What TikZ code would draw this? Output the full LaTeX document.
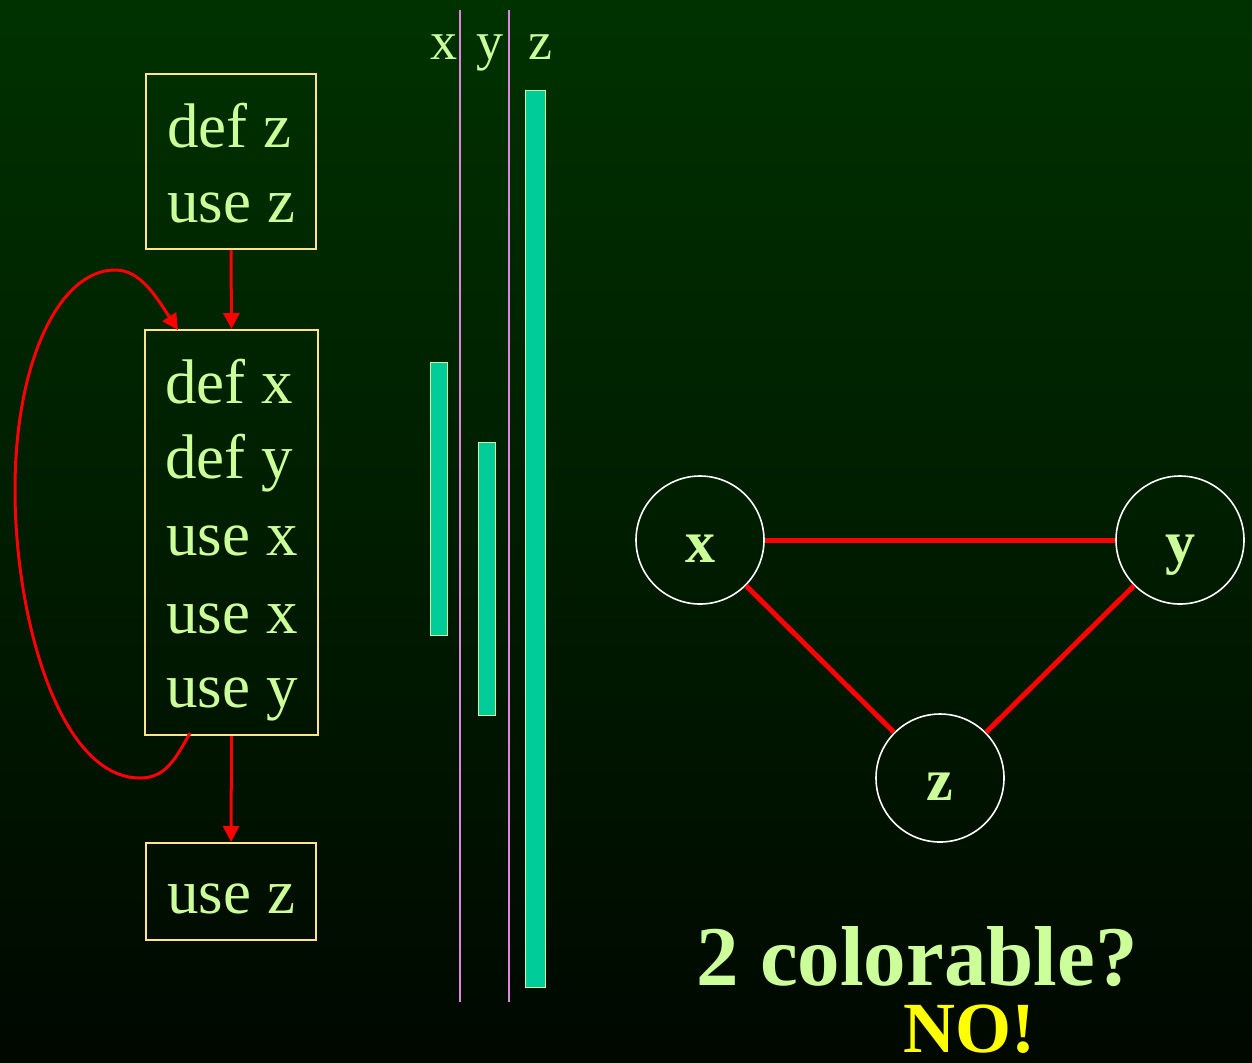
\documentclass[tikz,border=0pt]{standalone}
\usepackage{fontspec}
\setmainfont{Liberation Serif}
\usetikzlibrary{arrows.meta}
\definecolor{txt}{RGB}{204,255,153}
\definecolor{boxc}{RGB}{255,228,140}
\definecolor{barc}{RGB}{0,204,153}
\definecolor{linec}{RGB}{221,136,221}
\definecolor{bgtop}{RGB}{0,50,0}
\definecolor{bgbot}{RGB}{0,8,0}
\definecolor{nocol}{RGB}{255,255,0}
\tikzset{
  codebox/.style={draw=boxc, line width=1pt, inner sep=0pt},
  codetext/.style={text=txt, font=\fontsize{31.5}{38}\selectfont, inner sep=0pt, anchor=base west},
  flow/.style={draw=red, line width=1.5pt, -{Triangle[length=8pt,width=8pt]}},
  bar/.style={draw=txt, fill=barc, line width=0.5pt},
  vline/.style={draw=linec, line width=0.8pt},
  vnode/.style={circle, draw=white, line width=0.8pt, minimum size=64pt, inner sep=0pt,
    text height=22pt, text depth=0pt,
    text=txt, font=\bfseries\fontsize{30}{30}\selectfont},
  gedge/.style={draw=red, line width=2.5pt},
  varlab/.style={text=txt, font=\fontsize{27}{27}\selectfont, inner sep=0pt, anchor=base}
}
\begin{document}
\begin{tikzpicture}[x=0.5pt,y=-0.5pt]
\useasboundingbox (0,0) rectangle (1252,1062);
\shade[top color=bgtop, bottom color=bgbot] (0,0) rectangle (1252,1062);

% code boxes
\node[codebox, minimum width=85pt, minimum height=87.5pt] (b1) at (231,161.5) {};
\node[codebox, minimum width=86.5pt, minimum height=202.5pt] (b2) at (231.5,532.5) {};
\node[codebox, minimum width=85pt, minimum height=48.5pt] (b3) at (231,891.5) {};

\node[codetext] (t11) at (167,147) {def z};
\node[codetext] (t12) at (167,222) {use z};
\node[codetext] (t21) at (165,403) {def x};
\node[codetext] (t22) at (165,478) {def y};
\node[codetext] (t23) at (166,555) {use x};
\node[codetext] (t24) at (166,633) {use x};
\node[codetext] (t25) at (166,707) {use y};
\node[codetext] (t31) at (167,913) {use z};

\draw[flow] (b1.south) -- (b2.north);
\draw[flow] (b2.south) -- (b3.north);

\coordinate (ls) at (190,733);
\coordinate (le) at (178,330);
\draw[flow] (ls) .. controls (175,760) and (165,778) .. (140,778)
  .. controls (60,778) and (15,620) .. (15,490)
  .. controls (15,360) and (60,270) .. (115,270)
  .. controls (140,270) and (155,295) .. (le);

% live ranges
\draw[vline] (460,10) -- (460,1002);
\draw[vline] (509,10) -- (509,1002);
\node[varlab] (lx) at (444,59) {x};
\node[varlab] (ly) at (490,59) {y};
\node[varlab] (lz) at (540,59) {z};
\draw[bar] (430,362) rectangle (447,635);
\draw[bar] (478,442) rectangle (495,715);
\draw[bar] (525,90) rectangle (545,987);

% interference graph
\node[vnode] (vx) at (700,540) {x};
\node[vnode] (vy) at (1180,540) {y};
\node[vnode] (vz) at (940,778) {z};
\draw[gedge] (vx) -- (vy);
\draw[gedge] (vx) -- (vz);
\draw[gedge] (vy) -- (vz);

\node[text=txt, font=\bfseries\fontsize{42.5}{42.5}\selectfont, inner sep=0pt, anchor=base] (q) at (917,985) {2 colorable?};
\node[text=nocol, font=\bfseries\fontsize{36}{36}\selectfont, inner sep=0pt, anchor=base] (no) at (969,1052) {NO!};
\end{tikzpicture}
\end{document}
